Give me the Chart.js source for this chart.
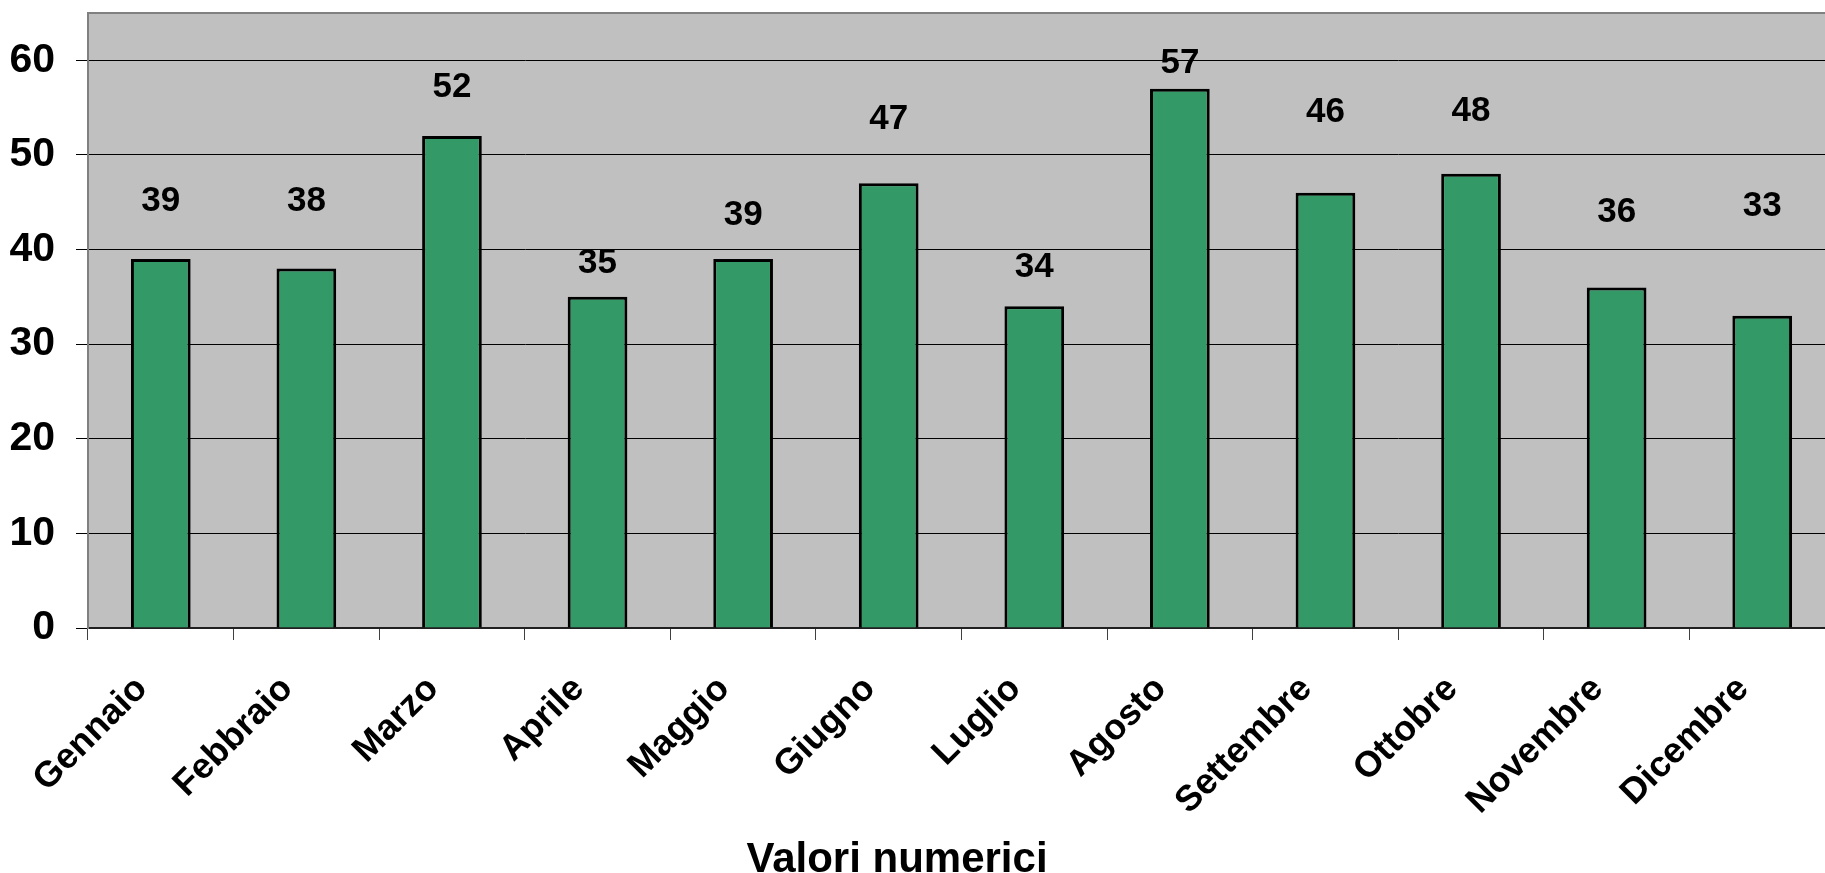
<!DOCTYPE html>
<html>
<head>
<meta charset="utf-8">
<script src="https://cdn.jsdelivr.net/npm/chart.js@4.4.1/dist/chart.umd.min.js"></script>
<style>
  html, body { margin: 0; padding: 0; background: #fff; overflow: hidden; }
  #wrap { position: relative; width: 1840px; height: 873px; }
  #titolo {
    position: absolute; left: 0; width: 1794px; top: 834px;
    text-align: center; line-height: 42px;
    font: bold 42px "Liberation Sans", Arial, sans-serif; color: #000;
  }
</style>
</head>
<body>
<div id="wrap">
  <canvas id="grafico" width="1840" height="873"></canvas>
  <div id="titolo">Valori numerici</div>
</div>
<script>
var mesi = ['Gennaio', 'Febbraio', 'Marzo', 'Aprile', 'Maggio', 'Giugno',
            'Luglio', 'Agosto', 'Settembre', 'Ottobre', 'Novembre', 'Dicembre'];
var valori = [39, 38, 52, 35, 39, 47, 34, 57, 46, 48, 36, 33];
var tickY = [0, 10, 20, 30, 40, 50, 60];
var maxY = 65;

// quanto sta sopra la barra ogni etichetta (px), come nell'originale
var alzaEtichetta = [58, 67, 49, 34, 44, 64, 39, 25, 80, 63, 75, 109];

var font = '"Liberation Sans", Arial, sans-serif';

// sfondo grigio dell'area del grafico + bordo
var sfondo = {
    id: 'sfondo',
    beforeDraw: function (chart) {
        var a = chart.chartArea, ctx = chart.ctx;
        ctx.save();
        ctx.fillStyle = '#c0c0c0';
        ctx.fillRect(a.left, a.top, a.right - a.left, a.bottom - a.top);
        ctx.restore();
    },
    afterDraw: function (chart) {
        var a = chart.chartArea, ctx = chart.ctx;
        ctx.save();
        ctx.strokeStyle = '#808080';
        ctx.lineWidth = 2;
        ctx.beginPath();
        ctx.moveTo(a.left, a.bottom);
        ctx.lineTo(a.left, a.top);
        ctx.lineTo(a.right, a.top);
        ctx.stroke();
        ctx.restore();
    }
};

// valori sopra le barre
var etichette = {
    id: 'etichette',
    afterDatasetsDraw: function (chart) {
        var ctx = chart.ctx;
        var barre = chart.getDatasetMeta(0).data;
        ctx.save();
        ctx.font = 'bold 35px ' + font;
        ctx.fillStyle = '#000';
        ctx.textAlign = 'center';
        ctx.textBaseline = 'middle';
        for (var i = 0; i < barre.length; i++) {
            ctx.fillText(String(valori[i]), barre[i].x, barre[i].y - alzaEtichetta[i]);
        }
        ctx.restore();
    }
};

var ctx = document.getElementById('grafico');
var grafico = new Chart(ctx, {
    type: 'bar',
    data: {
        labels: mesi,
        datasets: [{
            label: 'Valori numerici',
            data: valori,
            backgroundColor: '#339966',
            borderColor: '#000000',
            borderWidth: 3,
            categoryPercentage: 1,
            barPercentage: 0.41
        }]
    },
    options: {
        responsive: false,
        animation: false,
        devicePixelRatio: 1,
        layout: { padding: { top: 13, right: 5, left: 0, bottom: 0 } },
        plugins: {
            legend: { display: false },
            tooltip: { enabled: false }
        },
        scales: {
            x: {
                offset: true,
                grid: {
                    offset: true,
                    drawOnChartArea: false,
                    tickLength: 12,
                    color: '#404040',
                    lineWidth: 1
                },
                border: { color: '#202020', width: 2 },
                ticks: {
                    autoSkip: false,
                    minRotation: 45,
                    maxRotation: 45,
                    padding: 28,
                    labelOffset: -19,
                    color: '#000',
                    font: { family: font, size: 36, weight: 'bold' }
                },
                afterFit: function (s) {
                    s.height = 245;
                    s.paddingLeft = 0;
                    s.paddingRight = 0;
                }
            },
            y: {
                min: 0,
                max: maxY,
                afterBuildTicks: function (s) {
                    s.ticks = tickY.map(function (v) { return { value: v }; });
                },
                grid: { color: '#000', lineWidth: 1, tickLength: 12 },
                border: { color: '#808080', width: 2 },
                ticks: {
                    padding: 21,
                    color: '#000',
                    font: { family: font, size: 41, weight: 'bold' }
                },
                afterFit: function (s) {
                    s.width = 88;
                    s.paddingTop = 0;
                    s.paddingBottom = 0;
                }
            }
        }
    },
    plugins: [sfondo, etichette]
});
</script>
</body>
</html>
